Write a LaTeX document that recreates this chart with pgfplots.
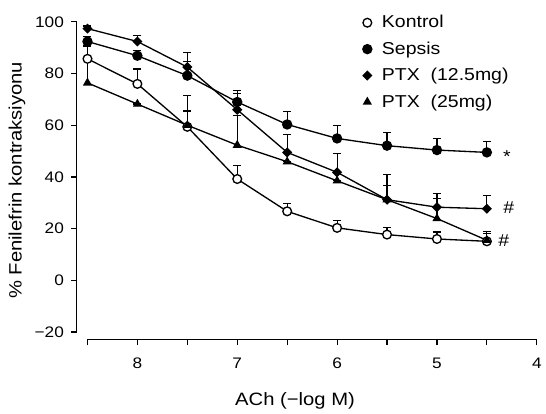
\documentclass[border=0pt]{standalone}
\usepackage{fontspec}
\setmainfont{Liberation Sans}[FakeStretch=1.13]
\usepackage{pgfplots}
\usepackage{pgfplotstable}
\pgfplotsset{compat=1.18}
\pgfplotstableread{
x y e
8.5 85.7 5
8 76.0 5.8
7.5 59.4 12
7 39.2 5.2
6.5 26.7 2.9
6 20.3 2.8
5.5 17.7 2.6
5 16.0 2.7
4.5 15.1 3.9
}\kontrol
\pgfplotstableread{
x y e
8.5 92.4 2
8 86.9 2
7.5 79.2 5.6
7 69.0 4.5
6.5 60.3 4.9
6 54.9 5.1
5.5 52.1 5.0
5 50.4 4.5
4.5 49.5 4.3
}\sepsis
\pgfplotstableread{
x y e
8.5 97.4 1
8 92.4 2.2
7.5 82.5 5.6
7 66.0 6.2
6.5 49.5 7.0
6 41.8 7.3
5.5 31.2 9.8
5 28.3 5.4
4.5 27.7 5.1
}\ptxa
\pgfplotstableread{
x y e
8.5 76.4 18
8 68.2 0
7.5 60.0 5.5
7 52.3 11.5
6.5 45.9 0
6 38.5 0
5.5 31.2 5.5
5 23.9 7.9
4.5 15.5 2.5
}\ptxb
\begin{document}
\begin{tikzpicture}
\begin{axis}[
  at={(0,0)}, anchor=south west,
  scale only axis, width=339pt, height=234pt,
  x dir=reverse, xmin=4, xmax=8.5, ymin=-20, ymax=100,
  axis x line*=bottom, axis y line*=left,
  axis x line shift=5.8pt, axis y line shift=8.25pt,
  axis line style={line width=1pt, -, black},
  every outer x axis line/.append style={-},
  every outer y axis line/.append style={-},
  tick align=outside, major tick length=4pt, minor tick length=4pt,
  tick style={line width=0.9pt, black},
  xtick={4,5,6,7,8}, xticklabels={4,5,6,7,8},
  minor xtick={4.5,5.5,6.5,7.5,8.5},
  ytick={-20,0,20,40,60,80,100}, yticklabels={−20,0,20,40,60,80,100},
  ticklabel style={font=\fontsize{11.5}{13}\selectfont},
  yticklabel style={xshift=-2pt},
  xticklabel style={yshift=-6pt},
  xlabel={ACh (−log M)}, ylabel={\% Fenilefrin kontraksiyonu},
  label style={font=\fontsize{13.5}{16}\selectfont},
  xlabel style={at={(axis description cs:0.462,-0.237)}, anchor=base},
  ylabel style={at={(axis description cs:-0.157,0.489)}, anchor=center},
  legend cell align=left,
  legend style={at={(axis description cs:0.604,1.03)}, anchor=north west, draw=none, fill=none,
    font=\fontsize{13}{15}\selectfont, row sep=5pt, inner sep=0pt},
  legend image code/.code={\draw[#1, only marks] plot coordinates {(0.2cm,0cm)}; \path (0cm,0cm) (0.5cm,0cm);},
  error bars/y dir=plus, error bars/y explicit,
  error bars/error bar style={line width=0.9pt, black},
  error bars/error mark options={line width=0.9pt, mark size=3pt, rotate=90, black},
  clip=false,
]
\addplot[color=black, line width=1pt, mark=*, mark size=3.3pt, mark options={fill=white, draw=black, solid}] table[x=x, y=y, y error=e] {\kontrol};
\addlegendentry{Kontrol}
\addplot[color=black, line width=1pt, mark=*, mark size=3.4pt, mark options={fill=black, draw=black, solid}] table[x=x, y=y, y error=e] {\sepsis};
\addlegendentry{Sepsis}
\addplot[color=black, line width=1pt, mark=square*, mark size=2.2pt, mark options={fill=black, draw=black, solid, rotate=45}] table[x=x, y=y, y error=e] {\ptxa};
\addlegendentry{PTX\ \ (12.5mg)}
\addplot[color=black, line width=1pt, mark=triangle*, mark size=3pt, mark options={fill=black, draw=black, solid}] table[x=x, y=y, y error=e] {\ptxb};
\addlegendentry{PTX\ \ (25mg)}
\node[font=\fontsize{13}{15}\selectfont] at (axis cs:4.3,47.7) {*};
\node[font=\fontsize{13}{15}\selectfont] at (axis cs:4.28,28.0) {\#};
\node[font=\fontsize{13}{15}\selectfont] at (axis cs:4.33,15.3) {\#};
\end{axis}
% detached y axis line and tick marks, drawn in plain TikZ (axis box: 339pt x 234pt at the origin)
\draw[line width=1pt, black] (-8.25pt,0pt) -- (-8.25pt,234pt);
\foreach \yy in {0,39,78,117,156,195,234}
  \draw[line width=0.9pt, black] (-8.25pt,\yy pt) -- (-12.25pt,\yy pt);
\path[use as bounding box] (-66pt,-60pt) rectangle (343.5pt,250.5pt);
\end{tikzpicture}
\end{document}
